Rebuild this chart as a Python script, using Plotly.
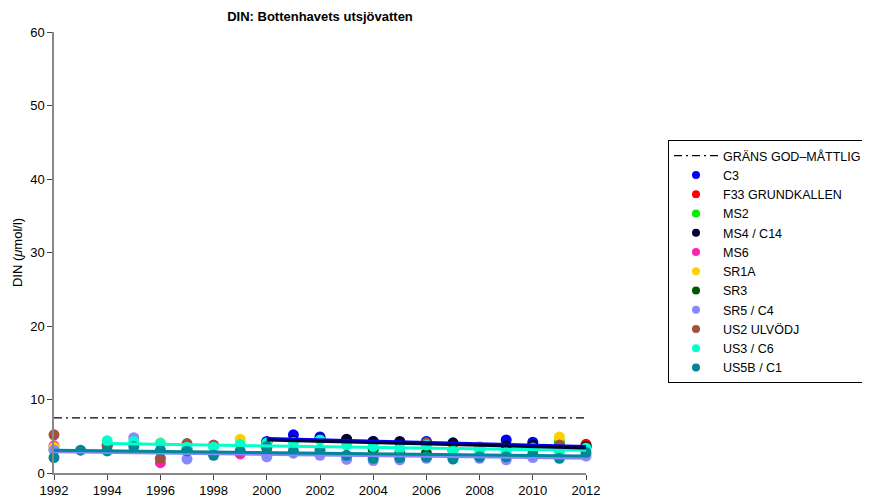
import plotly.graph_objects as go

# Observations per station: (year, DIN µmol/l)
c3_years = [2000, 2001, 2002, 2003, 2004, 2005, 2006, 2007, 2008, 2009, 2010, 2011, 2012]
c3_vals = [4.3, 5.2, 4.9, 4.5, 4.3, 4.2, 4.3, 4.0, 3.5, 4.5, 4.2, 3.8, 3.7]

f33_years = [2012]
f33_vals = [3.9]

ms2_years = [1992, 2011, 2012]
ms2_vals = [3.2, 4.3, 3.5]

ms4_years = [2000, 2001, 2002, 2003, 2004, 2005, 2006, 2007, 2008, 2009, 2010, 2011, 2012]
ms4_vals = [4.2, 4.4, 4.6, 4.6, 4.3, 4.3, 4.1, 4.1, 3.4, 3.7, 3.8, 3.6, 3.6]

ms6_years = [1992, 1996, 1999, 2003, 2006, 2011]
ms6_vals = [3.7, 1.4, 2.6, 1.9, 2.1, 3.4]

sr1a_years = [1992, 1996, 1999, 2007, 2008, 2011]
sr1a_vals = [3.5, 4.1, 4.6, 3.4, 3.6, 4.9]

sr3_years = [1994, 1997, 2000, 2004, 2005, 2006, 2007]
sr3_vals = [3.7, 3.2, 3.4, 3.2, 2.7, 2.7, 3.1]

sr5_years = [1992, 1995, 1997, 2000, 2001, 2002, 2003, 2004, 2005, 2006, 2007, 2008, 2009, 2010, 2011, 2012]
sr5_vals = [3.1, 4.8, 1.9, 2.2, 2.7, 2.4, 1.9, 1.7, 1.8, 2.0, 2.0, 2.0, 1.8, 2.1, 2.1, 2.3]

us2_years = [1992, 1994, 1996, 1997, 1998, 2006, 2011]
us2_vals = [5.2, 3.8, 2.0, 4.0, 3.8, 4.1, 3.8]

us3_years = [1994, 1995, 1996, 1997, 1998, 1999, 2000, 2001, 2002, 2003, 2004, 2005, 2006, 2007, 2008, 2009, 2010, 2011, 2012]
us3_vals = [4.4, 4.3, 4.0, 3.5, 3.5, 3.9, 4.1, 4.2, 4.5, 3.8, 3.6, 3.3, 3.8, 3.0, 3.0, 2.8, 3.4, 2.9, 3.4]

us5b_years = [1992, 1993, 1994, 1995, 1996, 1997, 1998, 1999, 2000, 2001, 2002, 2003, 2004, 2005, 2006, 2007, 2008, 2009, 2010, 2011, 2012]
us5b_vals = [2.1, 3.1, 3.0, 3.6, 3.1, 3.0, 2.4, 3.0, 3.6, 3.0, 3.1, 2.4, 2.0, 2.1, 2.2, 1.9, 2.2, 2.2, 2.6, 2.0, 2.8]

# Trend lines (start/end)
trend_sr5_x = [1992, 2012]; trend_sr5_y = [2.9, 2.0]
trend_us5b_x = [1992, 2012]; trend_us5b_y = [3.1, 2.3]
trend_us3_x = [1994, 2012]; trend_us3_y = [4.0, 3.1]
trend_c3_x = [2000, 2012]; trend_c3_y = [4.7, 3.6]
trend_ms4_x = [2000, 2012]; trend_ms4_y = [4.5, 3.4]

threshold_x = [1992, 2012]
threshold_y = [7.5, 7.5]

x_ticks = list(range(1992, 2013, 2))
y_ticks = [0, 10, 20, 30, 40, 50, 60]

station_names = ["C3", "F33 GRUNDKALLEN", "MS2", "MS4 / C14", "MS6", "SR1A",
                 "SR3", "SR5 / C4", "US2 ULVÖDJ", "US3 / C6", "US5B / C1"]
station_colors = ["#0000FF", "#FF0000", "#00EE00", "#000033", "#FF22AA", "#FFD000",
                  "#005500", "#8888FF", "#A0523C", "#00FFCC", "#008899"]
station_x = [c3_years, f33_years, ms2_years, ms4_years, ms6_years, sr1a_years,
             sr3_years, sr5_years, us2_years, us3_years, us5b_years]
station_y = [c3_vals, f33_vals, ms2_vals, ms4_vals, ms6_vals, sr1a_vals,
             sr3_vals, sr5_vals, us2_vals, us3_vals, us5b_vals]

FONT = "Liberation Sans, Arial, Helvetica, sans-serif"

# page body has an 8px default margin -> figure is 8px smaller and offset
W, H = 862, 492

fig = go.Figure()

fig.add_trace(go.Scatter(x=threshold_x, y=threshold_y, mode="lines",
                         line=dict(color="black", width=1.2, dash="8px,4px,2px,4px"),
                         name="GRÄNS GOD–MÅTTLIG", showlegend=True, hoverinfo="skip"))

for name, col, xs, ys in zip(station_names, station_colors, station_x, station_y):
    fig.add_trace(go.Scatter(x=xs, y=ys, mode="markers", name=name,
                             marker=dict(color=col, size=11), legendgroup=name,
                             showlegend=False, cliponaxis=False))

for tx, ty, col in [(trend_sr5_x, trend_sr5_y, "#8888FF"),
                    (trend_us5b_x, trend_us5b_y, "#008899"),
                    (trend_us3_x, trend_us3_y, "#00FFCC"),
                    (trend_c3_x, trend_c3_y, "#0000FF"),
                    (trend_ms4_x, trend_ms4_y, "#000033")]:
    fig.add_trace(go.Scatter(x=tx, y=ty, mode="lines", line=dict(color=col, width=3),
                             showlegend=False, hoverinfo="skip"))

for name, col in zip(station_names, station_colors):
    fig.add_trace(go.Scatter(x=[None], y=[None], mode="markers", name=name,
                             marker=dict(color=col, size=8), legendgroup=name))

fig.update_layout(
    width=W, height=H,
    margin=dict(l=46, r=284, t=24, b=27, autoexpand=False),
    paper_bgcolor="white", plot_bgcolor="white",
    font=dict(family=FONT, size=13, color="black"),
    title=dict(text="<b>DIN: Bottenhavets utsjövatten</b>", x=312 / W, xanchor="center",
               y=1 - 8 / H, yanchor="middle", font=dict(size=13)),
    showlegend=True,
    legend=dict(x=(668 - 54) / 532, xanchor="left", y=(473 - 140) / 441, yanchor="top",
                bordercolor="black", borderwidth=1, bgcolor="white",
                font=dict(size=12.5), tracegroupgap=0, itemwidth=44),
)
fig.update_xaxes(range=[1992, 2012], tickvals=x_ticks, automargin=False,
                 showgrid=False, zeroline=False, showline=True, linecolor="#888888",
                 linewidth=1.5, ticks="outside", ticklen=5, tickcolor="#444444",
                 tickfont=dict(size=13))
fig.update_yaxes(range=[0, 60], tickvals=y_ticks, automargin=False,
                 showgrid=False, zeroline=False, showline=True, linecolor="#888888",
                 linewidth=1.5, ticks="outside", ticklen=5, tickcolor="#444444",
                 tickfont=dict(size=13),
                 title=dict(text="DIN (<i>μ</i>mol/l)", font=dict(size=13), standoff=5))

fig.write_html("out.html")
